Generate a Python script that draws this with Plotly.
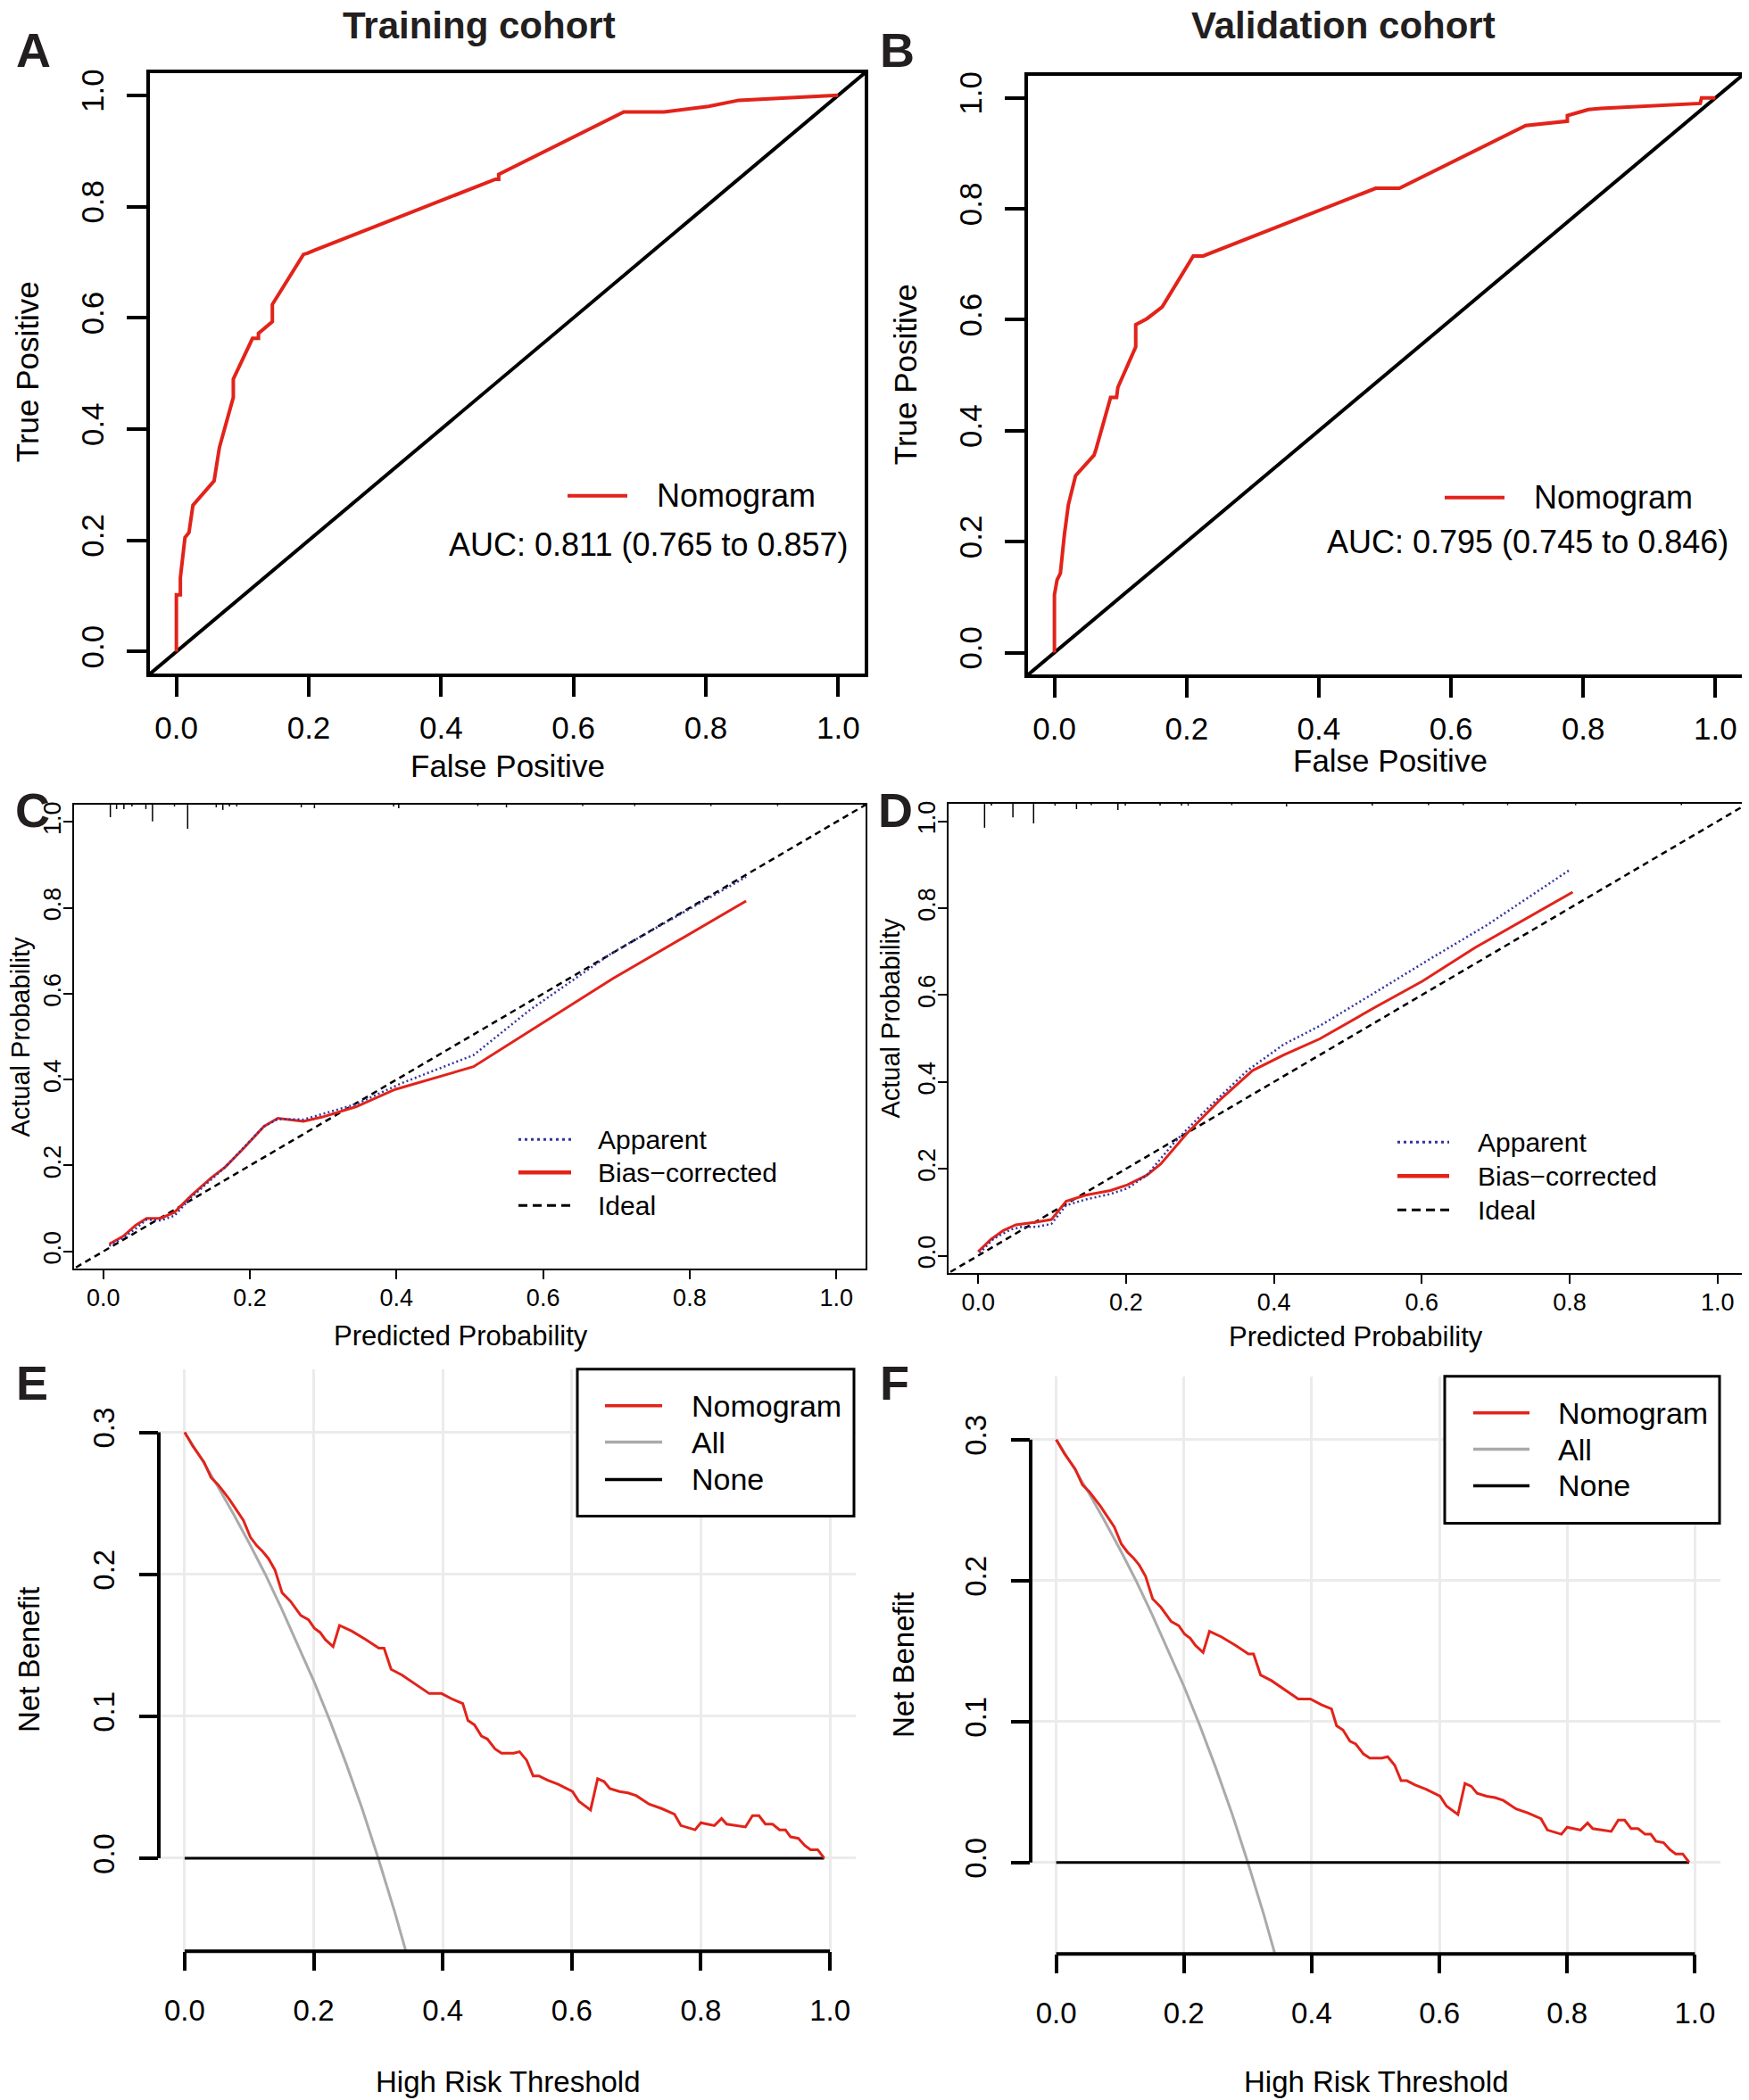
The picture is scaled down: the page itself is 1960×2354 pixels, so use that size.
import plotly.graph_objects as go

W, H = 1960, 2354
# the page body has an 8px margin, so the figure is 8px smaller and positions are shifted by it
OFF = 8
FW, FH = W - OFF, H - OFF
FONT = "Liberation Sans, Arial, sans-serif"

# ROC curves (A: training, B: validation)
roc_train_fpr = [0, 0, 0.006, 0.006, 0.013, 0.019, 0.025, 0.057, 0.065, 0.086, 0.086, 0.115, 0.124, 0.124,
                 0.145, 0.145, 0.192, 0.198, 0.210, 0.482, 0.487, 0.487, 0.676, 0.737, 0.804, 0.850, 1.0]
roc_train_tpr = [0, 0.102, 0.102, 0.133, 0.205, 0.214, 0.263, 0.307, 0.367, 0.457, 0.490, 0.563, 0.563, 0.572,
                 0.593, 0.624, 0.714, 0.716, 0.722, 0.849, 0.849, 0.858, 0.970, 0.970, 0.980, 0.991, 1.0]
roc_valid_fpr = [0, 0, 0.004, 0.009, 0.015, 0.021, 0.032, 0.060, 0.063, 0.085, 0.094, 0.096, 0.123, 0.123,
                 0.140, 0.163, 0.210, 0.225, 0.486, 0.522, 0.713, 0.776, 0.776, 0.808, 0.827, 0.977, 0.979, 1.0]
roc_valid_tpr = [0, 0.104, 0.131, 0.143, 0.212, 0.266, 0.319, 0.356, 0.367, 0.460, 0.460, 0.478, 0.551, 0.591,
                 0.602, 0.623, 0.715, 0.715, 0.837, 0.837, 0.950, 0.958, 0.968, 0.979, 0.981, 0.990, 1.0, 1.0]
auc_train = "AUC: 0.811 (0.765 to 0.857)"
auc_valid = "AUC: 0.795 (0.745 to 0.846)"

# Calibration curves (C: training, D: validation)
cal_train_bc_x = [0.008, 0.027, 0.044, 0.059, 0.078, 0.097, 0.120, 0.147, 0.166, 0.193, 0.219, 0.238, 0.273,
                  0.299, 0.345, 0.398, 0.505, 0.619, 0.695, 0.877]
cal_train_bc_y = [0.017, 0.035, 0.061, 0.077, 0.077, 0.091, 0.130, 0.171, 0.196, 0.243, 0.291, 0.310, 0.303,
                  0.313, 0.337, 0.377, 0.430, 0.552, 0.635, 0.816]
cal_train_app_x = [0.008, 0.027, 0.044, 0.059, 0.078, 0.097, 0.120, 0.166, 0.219, 0.238, 0.273, 0.345, 0.406,
                   0.505, 0.581, 0.695, 0.877]
cal_train_app_y = [0.013, 0.031, 0.053, 0.074, 0.072, 0.083, 0.126, 0.196, 0.291, 0.308, 0.307, 0.343, 0.391,
                   0.457, 0.561, 0.696, 0.872]
cal_valid_bc_x = [0.0, 0.017, 0.034, 0.051, 0.078, 0.099, 0.119, 0.145, 0.179, 0.202, 0.228, 0.247, 0.281,
                  0.326, 0.371, 0.413, 0.462, 0.537, 0.601, 0.672, 0.804]
cal_valid_bc_y = [0.009, 0.037, 0.058, 0.071, 0.077, 0.083, 0.125, 0.139, 0.150, 0.163, 0.185, 0.211, 0.279,
                  0.357, 0.426, 0.462, 0.499, 0.572, 0.632, 0.709, 0.837]
cal_valid_app_x = [0.002, 0.021, 0.044, 0.059, 0.078, 0.099, 0.119, 0.145, 0.179, 0.202, 0.228, 0.266, 0.311,
                   0.364, 0.413, 0.462, 0.537, 0.612, 0.688, 0.800]
cal_valid_app_y = [0.006, 0.039, 0.060, 0.066, 0.066, 0.073, 0.116, 0.129, 0.142, 0.155, 0.185, 0.262, 0.340,
                   0.426, 0.486, 0.529, 0.606, 0.684, 0.761, 0.888]
ideal = [-0.05, 1.05]

# rug of predicted probabilities along the top of C and D (position, tick length)
rug_train_x = [0.0095, 0.018, 0.028, 0.039, 0.058, 0.067, 0.097, 0.115, 0.154, 0.163, 0.172, 0.182, 0.270,
               0.288, 0.396, 0.403, 0.511, 0.550, 0.654, 0.725, 0.829, 0.920]
rug_train_h = [0.029, 0.010, 0.010, 0.004, 0.010, 0.039, 0.004, 0.056, 0.006, 0.012, 0.004, 0.004, 0.006,
               0.008, 0.004, 0.008, 0.003, 0.006, 0.003, 0.003, 0.003, 0.003]
rug_valid_x = [0.0087, 0.018, 0.047, 0.075, 0.104, 0.133, 0.153, 0.189, 0.199, 0.246, 0.275, 0.284, 0.343,
               0.417, 0.533, 0.609, 0.656, 0.716, 0.808, 0.951]
rug_valid_h = [0.055, 0.004, 0.031, 0.045, 0.004, 0.012, 0.003, 0.014, 0.004, 0.004, 0.004, 0.004, 0.003,
               0.006, 0.004, 0.003, 0.003, 0.003, 0.003, 0.003]

# Decision curves (E: training, F: validation)
dca_thr = [0.000, 0.013, 0.030, 0.041, 0.052, 0.069, 0.091, 0.102, 0.112, 0.121, 0.130, 0.140, 0.151, 0.164,
           0.180, 0.192, 0.201, 0.210, 0.218, 0.230, 0.240, 0.259, 0.281, 0.301, 0.309, 0.320, 0.337, 0.359,
           0.379, 0.398, 0.415, 0.431, 0.439, 0.449, 0.460, 0.469, 0.481, 0.491, 0.510, 0.519, 0.530, 0.540,
           0.549, 0.562, 0.579, 0.601, 0.611, 0.629, 0.640, 0.650, 0.659, 0.674, 0.687, 0.700, 0.711, 0.720,
           0.739, 0.759, 0.769, 0.791, 0.800, 0.821, 0.832, 0.840, 0.869, 0.880, 0.890, 0.900, 0.911, 0.922,
           0.931, 0.939, 0.951, 0.961, 0.970, 0.981, 0.991]
dca_nomogram = [0.300, 0.290, 0.279, 0.268, 0.263, 0.253, 0.238, 0.226, 0.220, 0.216, 0.211, 0.203, 0.187,
                0.181, 0.171, 0.168, 0.162, 0.159, 0.154, 0.149, 0.164, 0.160, 0.154, 0.148, 0.148, 0.133,
                0.129, 0.122, 0.116, 0.116, 0.112, 0.109, 0.097, 0.094, 0.086, 0.084, 0.077, 0.074, 0.074,
                0.075, 0.069, 0.058, 0.058, 0.055, 0.052, 0.047, 0.040, 0.034, 0.056, 0.054, 0.049, 0.047,
                0.046, 0.044, 0.041, 0.038, 0.035, 0.031, 0.023, 0.020, 0.025, 0.023, 0.028, 0.024, 0.022,
                0.030, 0.030, 0.024, 0.024, 0.020, 0.020, 0.015, 0.014, 0.009, 0.006, 0.006, 0.000]
dca_all_thr = [0.0, 0.025, 0.05, 0.075, 0.10, 0.125, 0.15, 0.175, 0.20, 0.225, 0.25, 0.275, 0.30, 0.325, 0.35]
dca_all_nb = [0.300, 0.282, 0.263, 0.243, 0.222, 0.200, 0.176, 0.151, 0.125, 0.097, 0.067, 0.035, 0.000,
              -0.037, -0.077]
dca_none_thr = [0.0, 0.991]
dca_none_nb = [0.0, 0.0]

RED = "#E2231A"
BLUE = "#33339E"
GREY = "#AAAAAA"


def px(x):
    return (x - OFF) / FW


def py(y):
    return 1 - (y - OFF) / FH


def text(x, y, s, size, bold=False, angle=0, xanchor="center", color="black"):
    return dict(x=px(x), y=py(y), xref="paper", yref="paper", text=f"<b>{s}</b>" if bold else s,
                showarrow=False, textangle=angle, xanchor=xanchor, yanchor="middle",
                font=dict(family=FONT, size=size, color=color))


def seg(x0, x1, y, color, width, dash="solid"):
    return dict(type="line", xref="paper", yref="paper", x0=px(x0), x1=px(x1), y0=py(y), y1=py(y),
                line=dict(color=color, width=width, dash=dash), layer="above")


fig = go.Figure()

# A / B
for ax, fpr, tpr in [("", roc_train_fpr, roc_train_tpr), ("2", roc_valid_fpr, roc_valid_tpr)]:
    fig.add_trace(go.Scatter(x=ideal, y=ideal, mode="lines", line=dict(color="black", width=4),
                             xaxis="x" + ax, yaxis="y" + ax, showlegend=False))
    fig.add_trace(go.Scatter(x=fpr, y=tpr, mode="lines", line=dict(color=RED, width=4),
                             xaxis="x" + ax, yaxis="y" + ax, showlegend=False))

# C / D
for ax, rx, rh, ax_, ay_, bx, by in [
    ("3", rug_train_x, rug_train_h, cal_train_app_x, cal_train_app_y, cal_train_bc_x, cal_train_bc_y),
    ("4", rug_valid_x, rug_valid_h, cal_valid_app_x, cal_valid_app_y, cal_valid_bc_x, cal_valid_bc_y),
]:
    xs, ys = [], []
    for x, h in zip(rx, rh):
        xs += [x, x, None]
        ys += [1.04, 1.04 - h, None]
    fig.add_trace(go.Scatter(x=xs, y=ys, mode="lines", line=dict(color="black", width=1.5),
                             xaxis="x" + ax, yaxis="y" + ax, showlegend=False))
    fig.add_trace(go.Scatter(x=ideal, y=ideal, mode="lines", line=dict(color="black", width=2.5, dash="7px,5px"),
                             xaxis="x" + ax, yaxis="y" + ax, showlegend=False))
    fig.add_trace(go.Scatter(x=bx, y=by, mode="lines", line=dict(color=RED, width=3),
                             xaxis="x" + ax, yaxis="y" + ax, showlegend=False))
    fig.add_trace(go.Scatter(x=ax_, y=ay_, mode="lines", line=dict(color=BLUE, width=2.5, dash="2px,3px"),
                             xaxis="x" + ax, yaxis="y" + ax, showlegend=False))

# E / F
for ax in ["5", "6"]:
    fig.add_trace(go.Scatter(x=dca_all_thr, y=dca_all_nb, mode="lines", line=dict(color=GREY, width=3),
                             xaxis="x" + ax, yaxis="y" + ax, showlegend=False))
    fig.add_trace(go.Scatter(x=dca_none_thr, y=dca_none_nb, mode="lines", line=dict(color="black", width=3),
                             xaxis="x" + ax, yaxis="y" + ax, showlegend=False))
    fig.add_trace(go.Scatter(x=dca_thr, y=dca_nomogram, mode="lines", line=dict(color=RED, width=3),
                             xaxis="x" + ax, yaxis="y" + ax, showlegend=False))

ticks01 = [0, 0.2, 0.4, 0.6, 0.8, 1.0]


def roc_axes(left, right, top, bottom, anchor):
    common = dict(range=[-0.04, 1.04], showline=True, mirror=True, linewidth=4, linecolor="black",
                  ticks="outside", ticklen=22, tickwidth=4, tickcolor="black", showgrid=False,
                  zeroline=False, tickvals=ticks01, tickformat=".1f",
                  tickfont=dict(family=FONT, size=35, color="black"))
    xa = dict(common, domain=[px(left), px(right)], anchor="y" + anchor, ticklabelstandoff=5)
    ya = dict(common, domain=[py(bottom), py(top)], anchor="x" + anchor, tickangle=-90, ticklabelstandoff=12)
    return xa, ya


def cal_axes(left, right, top, bottom, anchor):
    common = dict(range=[-0.04, 1.04], showline=True, mirror=True, linewidth=2, linecolor="black",
                  ticks="outside", ticklen=10, tickwidth=2, tickcolor="black", showgrid=False,
                  zeroline=False, tickvals=ticks01, tickformat=".1f",
                  tickfont=dict(family=FONT, size=27, color="black"))
    xa = dict(common, domain=[px(left), px(right)], anchor="y" + anchor, ticklabelstandoff=-2)
    ya = dict(common, domain=[py(bottom), py(top)], anchor="x" + anchor, tickangle=-90, ticklabelstandoff=-8)
    return xa, ya


def dca_axes(left, right, top, bottom, anchor, yr):
    common = dict(showline=False, ticks="outside", ticklen=21, tickwidth=4, tickcolor="black",
                  showgrid=True, gridcolor="#EBEBEB", gridwidth=3, zeroline=False, tickformat=".1f",
                  tickfont=dict(family=FONT, size=33, color="black"))
    xa = dict(common, domain=[px(left), px(right)], anchor="y" + anchor, range=[-0.04, 1.04],
              tickvals=ticks01, ticklabelstandoff=16)
    ya = dict(common, domain=[py(bottom), py(top)], anchor="x" + anchor, range=yr,
              tickvals=[0, 0.1, 0.2, 0.3], tickangle=-90, ticklabelstandoff=15)
    return xa, ya


xa1, ya1 = roc_axes(168, 969, 77, 752, "")
xa2, ya2 = roc_axes(1152, 1952, 80, 753, "2")
xa3, ya3 = cal_axes(83, 970, 899, 1420, "3")
xa4, ya4 = cal_axes(1063, 1958, 898, 1425, "4")
xa5, ya5 = dca_axes(178, 959, 1533, 2187, "5", [-0.0656, 0.3445])
xa6, ya6 = dca_axes(1155, 1928, 1541, 2190, "6", [-0.065, 0.345])

shapes = []
annotations = []

# panel letters and titles
for letter, x, y in [("A", 37, 51), ("B", 1005, 51), ("C", 36, 905), ("D", 1003, 905), ("E", 36, 1548),
                     ("F", 1002, 1548)]:
    annotations.append(text(x, y, letter, 54, bold=True, color="#231F20"))
annotations.append(text(537, 24, "Training cohort", 42, bold=True, color="#231F20"))
annotations.append(text(1505, 24, "Validation cohort", 42, bold=True, color="#231F20"))

# ROC labels and legends
annotations += [
    text(30, 413, "True Positive", 35, angle=-90),
    text(569, 855, "False Positive", 35),
    text(1014, 416, "True Positive", 35, angle=-90),
    text(1558, 849, "False Positive", 35),
    text(734, 552, "Nomogram", 36, xanchor="left"),
    text(953, 607, auc_train, 36, xanchor="right"),
    text(1717, 554, "Nomogram", 36, xanchor="left"),
    text(1939, 604, auc_valid, 36, xanchor="right"),
]
shapes += [seg(636, 703, 552, RED, 4), seg(1619, 1686, 554, RED, 4)]

# calibration labels and legends
annotations += [
    text(23, 1160, "Actual Probability", 29, angle=-90),
    text(517, 1496, "Predicted Probability", 31),
    text(998, 1139, "Actual Probability", 29, angle=-90),
    text(1519, 1497, "Predicted Probability", 31),
]
for lx0, lx1, tx, ys in [(581, 640, 668, [1275, 1312, 1349]), (1566, 1624, 1654, [1278, 1316, 1354])]:
    shapes += [seg(lx0, lx1, ys[0], BLUE, 3, "3px,4px"), seg(lx0, lx1, ys[1], RED, 4.5),
               seg(lx0, lx1, ys[2], "black", 3, "10px,6px")]
    annotations += [text(tx, ys[0], "Apparent", 30, xanchor="left"),
                    text(tx, ys[1], "Bias\u2212corrected", 30, xanchor="left"),
                    text(tx, ys[2], "Ideal", 30, xanchor="left")]

# decision curve labels, axis lines and legends
annotations += [
    text(32, 1860, "Net Benefit", 33, angle=-90),
    text(569, 2333, "High Risk Threshold", 33),
    text(1012, 1866, "Net Benefit", 33, angle=-90),
    text(1542, 2333, "High Risk Threshold", 33),
]
for ax in ["5", "6"]:
    shapes.append(dict(type="line", xref=f"x{ax} domain", yref=f"y{ax}", x0=0, x1=0, y0=0, y1=0.3,
                       line=dict(color="black", width=4), layer="above"))
    shapes.append(dict(type="line", xref=f"x{ax}", yref=f"y{ax} domain", x0=0, x1=1, y0=0, y1=0,
                       line=dict(color="black", width=4), layer="above"))
for bx0, bx1, by0, by1, lx0, lx1, tx, ys in [
    (647, 957, 1533, 1698, 678, 742, 773, [1574, 1615, 1657]),
    (1619, 1927, 1541, 1706, 1651, 1714, 1744, [1582, 1623, 1664]),
]:
    shapes.append(dict(type="rect", xref="paper", yref="paper", x0=px(bx0), x1=px(bx1), y0=py(by1),
                       y1=py(by0), line=dict(color="black", width=3), fillcolor="white", layer="above"))
    shapes += [seg(lx0, lx1, ys[0], RED, 3.5), seg(lx0, lx1, ys[1], GREY, 3.5), seg(lx0, lx1, ys[2], "black", 3.5)]
    annotations += [text(tx, ys[0], "Nomogram", 34, xanchor="left"),
                    text(tx, ys[1], "All", 34, xanchor="left"),
                    text(tx, ys[2], "None", 34, xanchor="left")]

fig.update_layout(
    width=FW, height=FH, margin=dict(l=0, r=0, t=0, b=0),
    paper_bgcolor="white", plot_bgcolor="white", showlegend=False,
    font=dict(family=FONT, color="black"),
    xaxis=xa1, yaxis=ya1, xaxis2=xa2, yaxis2=ya2, xaxis3=xa3, yaxis3=ya3,
    xaxis4=xa4, yaxis4=ya4, xaxis5=xa5, yaxis5=ya5, xaxis6=xa6, yaxis6=ya6,
    shapes=shapes, annotations=annotations,
)

fig.write_html("out.html")
